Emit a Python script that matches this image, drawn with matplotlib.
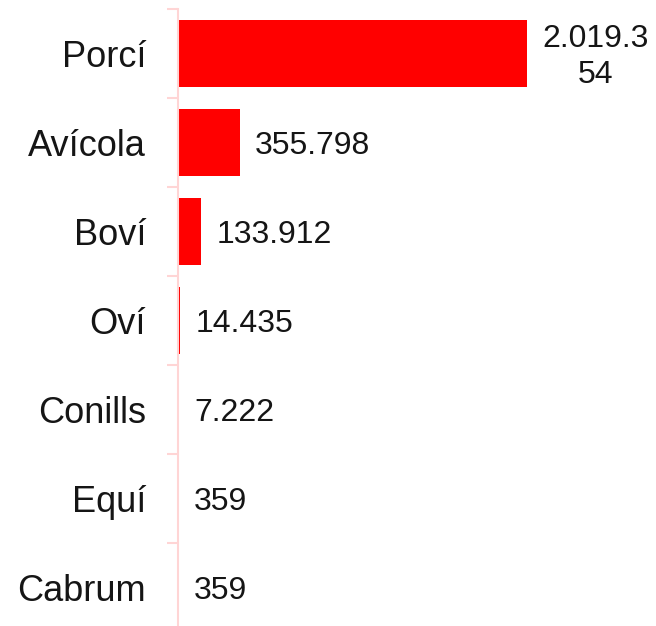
import matplotlib
matplotlib.use("Agg")
import matplotlib.pyplot as plt
from matplotlib.ticker import FixedLocator

categories = ["Porcí", "Avícola", "Boví", "Oví", "Conills", "Equí", "Cabrum"]
values = [2019354, 355798, 133912, 14435, 7222, 359, 359]
value_labels = ["2.019.3\n54", "355.798", "133.912", "14.435", "7.222", "359", "359"]

plt.rcParams['font.family'] = ['Liberation Sans', 'DejaVu Sans']

W, H = 656, 626
fig = plt.figure(figsize=(W / 100, H / 100), dpi=100)
ax_left = 178 / W
ax_top = 9
ax_bottom = 632
ax = fig.add_axes([ax_left, (H - ax_bottom) / H, (W - 178) / W, (ax_bottom - ax_top) / H])

y = list(range(len(categories)))
ax.barh(y, values, height=0.76, color="#ff0000", edgecolor="none")

ax.set_xlim(0, 2763000)
ax.set_ylim(len(categories) - 0.5, -0.5)

ax.set_yticks(y)
ax.set_yticklabels(categories, fontsize=26, color="#151515")
ax.yaxis.set_minor_locator(FixedLocator([i - 0.5 for i in range(len(categories) + 1)]))
ax.tick_params(axis="y", which="major", length=0, pad=23)
ax.tick_params(axis="y", which="minor", length=8, width=1.5, color="#ffd5d5")
ax.set_xticks([])

for s in ["top", "right", "bottom"]:
    ax.spines[s].set_visible(False)
ax.spines["left"].set_color("#ffd5d5")
ax.spines["left"].set_linewidth(1.5)

for yi, v, lab in zip(y, values, value_labels):
    ax.annotate(lab, xy=(v, yi), xytext=(11, -2.5), textcoords="offset points",
                ha="left", va="center", multialignment="center",
                fontsize=23, color="#151515", linespacing=1.25)

fig.savefig("out.png", dpi=100)
